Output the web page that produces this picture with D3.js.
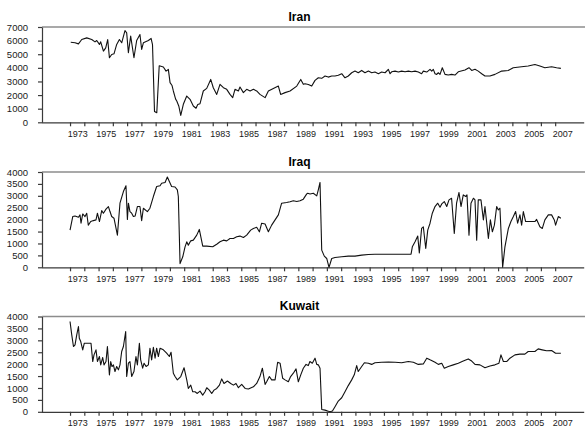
<!DOCTYPE html>
<html>
<head>
<meta charset="utf-8">
<script src="https://cdn.jsdelivr.net/npm/d3@7"></script>
<style>
  body { margin: 0; background: #fff; }
  text { font-family: "Liberation Sans", Arial, sans-serif; }
</style>
</head>
<body>
<svg id="chart" width="585" height="427"></svg>
<script>
// monthly crude production, thousand barrels/day
var iran = [[1973.05,5880],[1973.35,5840],[1973.59,5760],[1973.82,6080],[1974.17,6200],[1974.52,6080],[1974.75,5910],[1974.87,6010],[1975.06,5720],[1975.15,5910],[1975.34,5230],[1975.5,5470],[1975.64,6080],[1975.76,4740],[1975.92,4980],[1976.08,5030],[1976.27,5720],[1976.46,6080],[1976.62,5840],[1976.85,6740],[1976.97,6570],[1977.09,5110],[1977.25,6330],[1977.48,4740],[1977.67,6010],[1977.9,6450],[1978.02,5350],[1978.14,5840],[1978.49,6010],[1978.68,6160],[1978.78,5700],[1978.92,800],[1979.08,700],[1979.25,4150],[1979.54,4060],[1979.73,3760],[1979.89,3890],[1980.01,2910],[1980.15,2700],[1980.24,2300],[1980.4,1700],[1980.48,1560],[1980.62,1200],[1980.76,510],[1980.94,1320],[1981.18,1930],[1981.41,1690],[1981.64,1200],[1981.83,1030],[1981.95,1300],[1982.11,1370],[1982.34,2300],[1982.58,2490],[1982.86,3150],[1983.04,2540],[1983.28,2050],[1983.51,2790],[1983.75,2540],[1983.98,2420],[1984.21,2050],[1984.4,1810],[1984.56,2420],[1984.8,2300],[1984.91,2590],[1985.15,2180],[1985.38,2420],[1985.62,2300],[1985.85,2420],[1986.08,2300],[1986.31,2050],[1986.67,1810],[1986.9,2300],[1987.25,2490],[1987.6,2660],[1987.76,2050],[1988.07,2180],[1988.42,2300],[1988.89,2660],[1989.17,3150],[1989.35,2790],[1989.47,2830],[1989.7,2780],[1989.94,2660],[1990.17,3080],[1990.4,3270],[1990.64,3230],[1990.87,3400],[1991.1,3320],[1991.34,3400],[1991.57,3400],[1991.8,3450],[1992.04,3570],[1992.27,3270],[1992.5,3400],[1992.74,3640],[1992.97,3760],[1993.2,3640],[1993.44,3810],[1993.67,3640],[1993.91,3760],[1994.14,3640],[1994.37,3690],[1994.61,3570],[1994.84,3690],[1995.08,3640],[1995.31,3890],[1995.43,3570],[1995.54,3710],[1995.78,3760],[1996.01,3690],[1996.24,3760],[1996.48,3710],[1996.71,3760],[1996.94,3710],[1997.18,3760],[1997.41,3690],[1997.64,3570],[1997.76,3760],[1998.0,3690],[1998.23,3890],[1998.35,3760],[1998.46,3890],[1998.58,3570],[1998.7,3520],[1998.81,3640],[1998.93,3520],[1999.09,4010],[1999.28,3520],[1999.51,3470],[1999.74,3520],[1999.98,3470],[2000.21,3710],[2000.68,3840],[2000.96,4010],[2001.15,3810],[2001.38,3890],[2001.61,3760],[2001.85,3570],[2002.08,3400],[2002.43,3400],[2002.78,3520],[2003.25,3760],[2003.71,3810],[2004.06,4010],[2004.65,4080],[2005.11,4130],[2005.58,4250],[2005.93,4130],[2006.28,4010],[2006.75,4080],[2007.1,4010],[2007.4,3960]];

var iraq = [[1973.0,1560],[1973.19,2130],[1973.35,2150],[1973.59,2100],[1973.7,2200],[1973.77,1850],[1973.89,2240],[1974.05,2130],[1974.17,2270],[1974.28,1770],[1974.45,1920],[1974.64,1960],[1974.82,1990],[1974.92,2270],[1975.06,1920],[1975.22,2380],[1975.34,2270],[1975.52,2440],[1975.69,2550],[1975.8,2340],[1975.92,2130],[1976.08,2060],[1976.32,1350],[1976.5,2690],[1976.74,3180],[1976.92,3420],[1977.02,2010],[1977.09,2690],[1977.2,2340],[1977.32,2270],[1977.44,2130],[1977.56,2150],[1977.72,2550],[1977.9,2550],[1978.02,1960],[1978.14,2480],[1978.42,2340],[1978.6,2480],[1978.84,2970],[1979.07,3390],[1979.31,3420],[1979.42,3530],[1979.66,3560],[1979.82,3790],[1979.96,3600],[1980.12,3390],[1980.36,3370],[1980.52,3250],[1980.59,2970],[1980.71,155],[1980.9,440],[1981.06,860],[1981.18,1070],[1981.29,930],[1981.46,1110],[1981.64,1140],[1981.88,1350],[1982.06,1590],[1982.3,890],[1982.58,890],[1983.0,860],[1983.28,970],[1983.51,1070],[1983.75,1140],[1983.98,1110],[1984.21,1210],[1984.45,1210],[1984.68,1280],[1984.91,1310],[1985.15,1250],[1985.38,1350],[1985.66,1560],[1985.85,1630],[1986.08,1680],[1986.27,1490],[1986.43,1850],[1986.67,1820],[1986.9,1490],[1987.13,1770],[1987.37,1990],[1987.6,2200],[1987.83,2690],[1988.18,2720],[1988.42,2750],[1988.65,2790],[1988.89,2760],[1989.12,2790],[1989.35,2860],[1989.59,3080],[1989.66,3110],[1989.82,3080],[1990.05,3110],[1990.29,3000],[1990.4,3250],[1990.52,3560],[1990.64,720],[1990.82,470],[1990.99,370],[1991.15,0],[1991.34,370],[1991.57,410],[1992.04,440],[1992.5,470],[1992.97,470],[1993.44,510],[1993.91,540],[1994.37,550],[1994.84,550],[1995.54,550],[1996.24,550],[1996.9,550],[1996.99,860],[1997.18,1070],[1997.37,1310],[1997.48,600],[1997.64,1630],[1997.76,1700],[1997.93,790],[1998.07,1560],[1998.23,1850],[1998.39,2270],[1998.58,2550],[1998.77,2690],[1998.93,2520],[1999.05,2660],[1999.23,2760],[1999.4,2550],[1999.56,2830],[1999.74,2900],[1999.93,1420],[2000.09,2690],[2000.26,3140],[2000.4,2550],[2000.56,3040],[2000.73,2970],[2000.82,3040],[2000.96,1350],[2001.1,2690],[2001.27,2900],[2001.38,2830],[2001.5,1140],[2001.61,2830],[2001.8,2830],[2001.97,1990],[2002.08,2550],[2002.32,1210],[2002.46,1990],[2002.6,1490],[2002.74,1770],[2002.9,2550],[2003.02,2410],[2003.13,2480],[2003.32,0],[2003.48,860],[2003.72,1630],[2003.9,1920],[2004.07,2130],[2004.23,2340],[2004.37,1850],[2004.53,2200],[2004.65,1770],[2004.77,2340],[2004.93,1920],[2005.12,1920],[2005.35,1920],[2005.58,1920],[2005.7,2010],[2005.93,1700],[2006.1,1630],[2006.28,1990],[2006.52,2200],[2006.75,2200],[2006.94,1990],[2007.03,1770],[2007.22,2130],[2007.4,2060]];

var kuwait = [[1973.0,3790],[1973.12,3230],[1973.24,2740],[1973.35,2810],[1973.47,3230],[1973.59,3580],[1973.65,3090],[1973.75,2950],[1973.89,2600],[1974.0,2880],[1974.19,2880],[1974.47,2880],[1974.59,2110],[1974.68,2390],[1974.82,2600],[1974.92,2110],[1975.06,2320],[1975.15,1970],[1975.29,2280],[1975.38,1970],[1975.52,2110],[1975.62,2740],[1975.76,1550],[1975.85,2110],[1975.94,1900],[1976.04,1970],[1976.15,1690],[1976.27,1900],[1976.39,1760],[1976.5,1970],[1976.62,2530],[1976.74,2740],[1976.9,3370],[1976.97,1480],[1977.09,2040],[1977.2,2110],[1977.32,1480],[1977.48,1690],[1977.62,2320],[1977.72,1970],[1977.86,2880],[1977.95,2180],[1978.09,1830],[1978.19,2040],[1978.33,1900],[1978.49,1970],[1978.6,2670],[1978.72,2180],[1978.84,2710],[1978.96,2250],[1979.07,2670],[1979.19,2320],[1979.31,2670],[1979.54,2600],[1979.77,2460],[1979.96,2320],[1980.08,2500],[1980.24,1620],[1980.36,1480],[1980.52,1340],[1980.76,1480],[1980.99,1850],[1981.18,1340],[1981.29,980],[1981.46,1120],[1981.6,840],[1981.76,840],[1981.92,770],[1982.11,870],[1982.3,700],[1982.46,840],[1982.58,1010],[1982.76,910],[1982.93,770],[1983.09,910],[1983.28,980],[1983.47,1120],[1983.63,1380],[1983.79,1190],[1984.03,1290],[1984.26,1190],[1984.45,1120],[1984.63,1190],[1984.8,1010],[1985.03,1150],[1985.27,980],[1985.5,960],[1985.85,1050],[1986.08,1190],[1986.31,1480],[1986.48,1830],[1986.67,1150],[1986.78,1260],[1986.97,1480],[1987.13,1340],[1987.37,1340],[1987.55,2080],[1987.72,2040],[1987.9,1410],[1988.07,1340],[1988.3,1260],[1988.46,1480],[1988.65,1620],[1988.84,1800],[1989.0,1260],[1989.17,1550],[1989.35,1830],[1989.54,1990],[1989.7,1940],[1989.81,2110],[1989.98,2040],[1990.17,2250],[1990.29,1990],[1990.4,1970],[1990.52,1830],[1990.64,100],[1990.87,70],[1991.06,30],[1991.22,0],[1991.39,30],[1991.57,210],[1991.8,450],[1992.04,590],[1992.27,840],[1992.5,1100],[1992.74,1340],[1992.92,1550],[1993.09,1940],[1993.2,1690],[1993.44,1900],[1993.63,2060],[1993.91,2040],[1994.14,1990],[1994.37,2060],[1994.84,2080],[1995.31,2090],[1995.78,2080],[1996.24,2060],[1996.71,2110],[1997.06,2080],[1997.41,1990],[1997.76,2010],[1998.0,2250],[1998.23,2180],[1998.58,2080],[1998.81,1990],[1999.05,2040],[1999.23,1830],[1999.51,1900],[1999.86,1970],[2000.21,2040],[2000.56,2130],[2000.91,2220],[2001.15,2130],[2001.38,1990],[2001.73,1970],[2002.08,1850],[2002.43,1920],[2002.78,1970],[2003.06,2040],[2003.2,2390],[2003.37,2110],[2003.6,2110],[2003.83,2250],[2004.18,2390],[2004.53,2420],[2004.88,2420],[2005.11,2530],[2005.58,2530],[2005.81,2640],[2006.09,2600],[2006.4,2560],[2006.75,2570],[2007.03,2460],[2007.4,2460]];

var panelNames = ["Iran", "Iraq", "Kuwait"];
var panelMax = [7000, 4000, 4000];
var panelStep = [1000, 500, 500];
var yearTicks = d3.range(1973, 2008);
var yearLabels = d3.range(1973, 2008, 2);

var svg = d3.select("#chart");
var series = [iran, iraq, kuwait];

var x = d3.scaleLinear().domain([1971, 2009]).range([41.5, 583.7]);

panelNames.forEach(function(name, i) {
  var top = 27 + i * 145 - (i == 2 ? 0.5 : 0),
      bottom = top + 95.3;
  var y = d3.scaleLinear().domain([0, panelMax[i]]).range([bottom, top]);
  var g = svg.append("g");

  // grey frame line along the top
  g.append("line")
    .attr("x1", 42).attr("x2", 585)
    .attr("y1", top).attr("y2", top)
    .attr("stroke", "#8c8c8c").attr("stroke-width", 1.5);

  // y axis
  var yAxis = d3.axisLeft(y)
    .tickValues(d3.range(0, panelMax[i] + 1, panelStep[i]))
    .tickFormat(d3.format("d"))
    .tickSize(4).tickSizeOuter(0).tickPadding(10);
  var ya = g.append("g").attr("transform", "translate(42,0)").call(yAxis);

  // x axis: a tick at each year, label in the middle of every second year
  var xAxis = d3.axisBottom(x).tickValues(yearTicks)
    .tickSize(4).tickSizeOuter(0).tickFormat("");
  var xa = g.append("g").attr("transform", "translate(0," + bottom + ")").call(xAxis);
  var xl = g.append("g").attr("transform", "translate(0," + bottom + ")")
    .call(d3.axisBottom(x).tickValues(yearLabels.map(function(d) { return d + 0.5; }))
      .tickSize(0).tickPadding(8).tickFormat(function(d) { return Math.floor(d); }));
  xl.select(".domain").remove();

  [ya, xa, xl].forEach(function(a) {
    a.attr("font-family", null).attr("font-size", null);
    a.selectAll(".domain, .tick line").attr("stroke", "#3a3a3a").attr("stroke-width", 1.2);
    a.selectAll("text").attr("fill", "#1a1a1a").style("font-size", "9px");
  });
  ya.selectAll("text").style("font-size", "9.5px");

  g.append("text")
    .attr("x", 299.5).attr("y", top - 6.5)
    .attr("text-anchor", "middle")
    .style("font-size", "12px").style("font-weight", "bold")
    .text(name);

  var lineGen = d3.line()
    .x(function(d) { return x(d[0]); })
    .y(function(d) { return y(d[1]); });

  g.append("path")
    .attr("d", lineGen(series[i]))
    .attr("fill", "none")
    .attr("stroke", "#111")
    .attr("stroke-width", 1.1)
    .attr("stroke-linejoin", "round");
});
</script>
</body>
</html>
